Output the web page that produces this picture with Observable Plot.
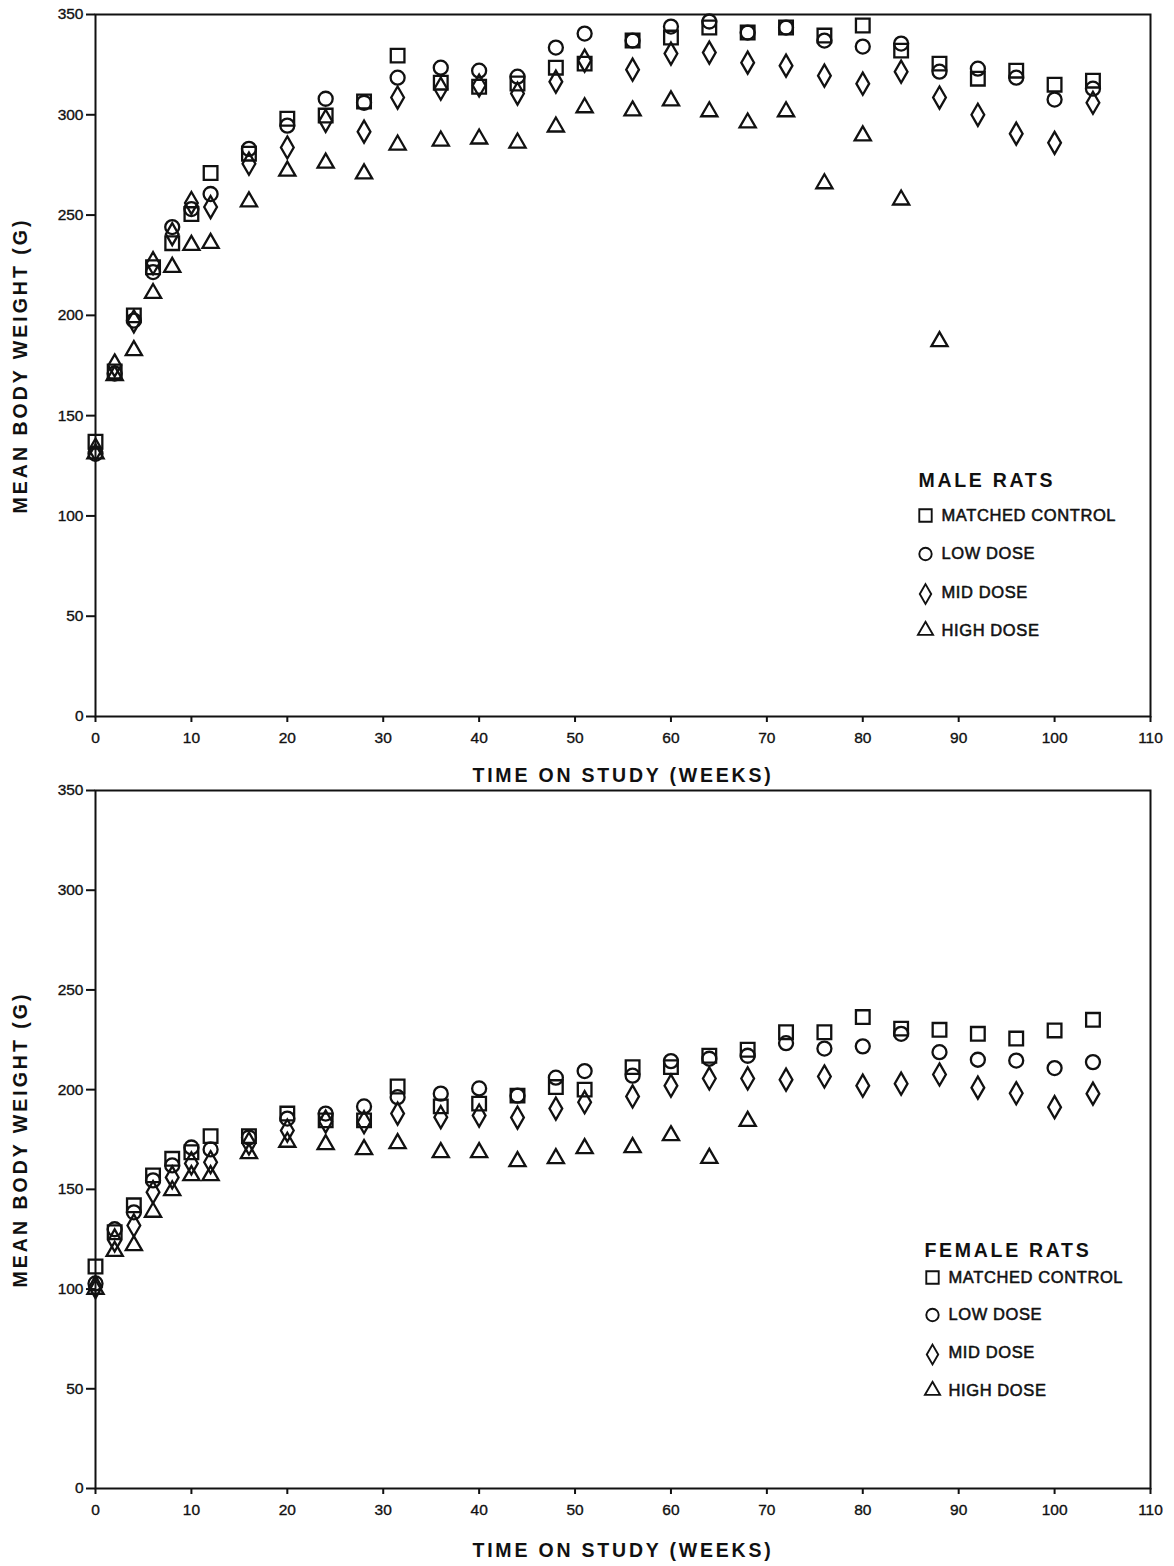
<!DOCTYPE html>
<html>
<head>
<meta charset="utf-8">
<script src="https://cdn.jsdelivr.net/npm/d3@7"></script>
<script src="https://cdn.jsdelivr.net/npm/@observablehq/plot@0.6"></script>
<style>
  body { margin: 0; background: #fff; }
  #chart svg { display: block; overflow: visible; }
</style>
</head>
<body>
<div id="chart"></div>
<script>
// ---- tick labels ----
const xTicks = [0, 10, 20, 30, 40, 50, 60, 70, 80, 90, 100, 110];
const yTicks = [0, 50, 100, 150, 200, 250, 300, 350];

// ---- categories ----
const groupNames = ["MATCHED CONTROL", "LOW DOSE", "MID DOSE", "HIGH DOSE"];
const groupSymbols = ["square", "circle", "diamond", "triangle"];

// ---- time points (weeks) ----
const weeks = [0, 2, 4, 6, 8, 10, 12, 16, 20, 24, 28, 31.5, 36, 40, 44, 48, 51, 56, 60, 64, 68, 72, 76, 80, 84, 88, 92, 96, 100, 104];
const weeksMaleHigh = [0, 2, 4, 6, 8, 10, 12, 16, 20, 24, 28, 31.5, 36, 40, 44, 48, 51, 56, 60, 64, 68, 72, 76, 80, 84, 88];
const weeksFemaleHigh = [0, 2, 4, 6, 8, 10, 12, 16, 20, 24, 28, 31.5, 36, 40, 44, 48, 51, 56, 60, 64, 68];

// ---- male rats, mean body weight (g) ----
const maleControl = [137, 172, 200, 224, 236, 250.5, 271, 280.6, 298, 299.6, 306.6, 329.5, 316, 314, 315.6, 323.5, 325.5, 337, 338.5, 343.5, 341, 343.5, 339.5, 344.5, 332, 325.5, 318, 322, 315, 317];
const maleLow = [131, 171, 197.4, 221.6, 244, 253, 260.5, 283, 294.6, 308, 306, 318.5, 323.5, 322, 319, 333.5, 340.5, 337, 344, 346.5, 341, 343.5, 337, 334, 335.5, 321.5, 323, 318.5, 307.6, 313];
const maleMid = [133, 175, 197, 226, 240.5, 256, 254, 275.6, 283.7, 297, 291.6, 308.6, 313, 314.6, 310.6, 316.5, 327, 322.5, 330.5, 331, 326, 324.5, 319.5, 315.5, 321.5, 308.6, 300, 290.6, 286, 306];
const maleHigh = [131, 170, 182.5, 211, 224, 235, 236, 256.7, 272, 276, 270.6, 285, 287, 288, 286, 294, 303.6, 302, 307, 301.6, 296, 301.6, 265.7, 289.6, 257.6, 187];

// ---- female rats, mean body weight (g) ----
const femaleControl = [111.3, 128.5, 142, 157, 165.3, 168.6, 176.7, 176.7, 188, 184.6, 184.6, 201.6, 191.6, 193, 197, 201.3, 200, 211.3, 211.3, 217, 220, 228.8, 228.8, 236.4, 230.6, 230, 228, 225.6, 229.7, 235];
const femaleLow = [102.8, 130, 138.5, 154.5, 162, 171, 170, 176, 185.5, 188, 191.6, 196.2, 198, 200.6, 197, 206, 209.3, 207, 214.3, 215.5, 217, 223.3, 220.6, 221.7, 228, 218.8, 215, 214.6, 210.8, 213.8];
const femaleMid = [101, 124.4, 131.9, 148.6, 156, 163, 163.6, 173, 179.5, 184, 183.7, 188, 186.2, 187, 186, 190.5, 193.7, 196.6, 202, 205.6, 205.6, 205, 206.6, 202, 203, 207.6, 201, 198.2, 191.2, 198];
const femaleHigh = [100, 119, 121.9, 138.6, 149.4, 157, 157, 168, 173.7, 172.5, 170, 173, 168.5, 168.5, 164, 165.5, 170.5, 171, 177, 165.6, 184.2];

const xTitle = "TIME ON STUDY (WEEKS)";
const yTitle = "MEAN BODY WEIGHT (G)";

// symbol sizes (style)
const dotR = {square: 7.7, circle: 7.0, diamond: 6.7, triangle: 6.0};
const legR = {square: 7.0, circle: 6.2, diamond: 6.0, triangle: 5.6};
const INK = "#111";
const FONT = "'Liberation Sans', Arial, Helvetica, sans-serif";

function panel(cfg) {
  const marks = [
    Plot.frame({stroke: INK, strokeWidth: 2}),
    Plot.axisX({ticks: xTicks, tickSize: 6, tickPadding: 9, fontSize: 15.5, strokeWidth: 2, label: null}),
    Plot.axisY({ticks: yTicks, tickSize: 9, tickPadding: 3, fontSize: 15.5, strokeWidth: 2, label: null}),
    Plot.text([xTitle], {frameAnchor: "bottom", dy: cfg.xTitleDy, text: d => d, textAnchor: "middle", lineAnchor: "middle", fontSize: 19.5, fontWeight: "bold", fill: INK}),
    Plot.text([yTitle], {frameAnchor: "left", dx: -75, rotate: -90, text: d => d, textAnchor: "middle", lineAnchor: "middle", fontSize: 19.5, fontWeight: "bold", fill: INK})
  ];
  cfg.series.forEach((vals, k) => {
    const wk = cfg.weeks[k];
    const data = vals.map((v, i) => ({week: wk[i], weight: v}));
    const sym = groupSymbols[k];
    marks.push(Plot.dot(data, {x: "week", y: "weight", symbol: sym, r: dotR[sym], stroke: INK, strokeWidth: 2.3, fill: "none"}));
  });
  // legend inside plot area
  const L = cfg.legend;
  marks.push(Plot.text([cfg.title], {frameAnchor: "top-left", dx: L.titleDx, dy: L.titleDy, text: d => d, textAnchor: "start", lineAnchor: "middle", fontSize: 19.5, fontWeight: "bold", fill: INK}));
  groupNames.forEach((name, k) => {
    const sym = groupSymbols[k];
    marks.push(Plot.dot([name], {frameAnchor: "top-left", dx: L.symDx, dy: L.itemDy[k] + (sym === "diamond" ? 1.5 : 0), symbol: sym, r: legR[sym], stroke: INK, strokeWidth: 1.9, fill: "none"}));
    marks.push(Plot.text([name], {frameAnchor: "top-left", dx: L.textDx, dy: L.itemDy[k], text: d => d, textAnchor: "start", lineAnchor: "middle", fontSize: 16.5, fill: INK, stroke: INK, strokeWidth: 0.55}));
  });
  const svg = Plot.plot({
    width: 1174,
    height: cfg.height,
    marginLeft: 95,
    marginRight: 24,
    marginTop: cfg.marginTop,
    marginBottom: cfg.marginBottom,
    x: {domain: [0, 110], label: null},
    y: {domain: [0, 350], label: null},
    style: {fontFamily: FONT, color: INK, background: "#fff"},
    marks
  });
  // letter spacing for the titles and legend
  const spacing = new Map([[xTitle, "2.8px"], [yTitle, "3px"], [cfg.title, "2.7px"]]);
  groupNames.forEach(n => spacing.set(n, "0.6px"));
  d3.select(svg).selectAll("text").each(function () {
    const s = spacing.get(this.textContent);
    if (s) this.style.letterSpacing = s;
  });
  // slightly heavier tick labels, like the printed original
  d3.select(svg).selectAll('g[aria-label$="tick label"]')
    .style("font-size", "15.5px")
    .attr("stroke", INK).attr("stroke-width", 0.35);
  return svg;
}

const malePanel = panel({
  height: 782, marginTop: 14, marginBottom: 66, xTitleDy: 59,
  title: "MALE RATS",
  series: [maleControl, maleLow, maleMid, maleHigh],
  weeks: [weeks, weeks, weeks, weeksMaleHigh],
  legend: {titleDx: 823, titleDy: 466, symDx: 830, textDx: 846, itemDy: [501, 539.5, 578, 616]}
});
const femalePanel = panel({
  height: 784, marginTop: 8, marginBottom: 78, xTitleDy: 62,
  title: "FEMALE RATS",
  series: [femaleControl, femaleLow, femaleMid, femaleHigh],
  weeks: [weeks, weeks, weeks, weeksFemaleHigh],
  legend: {titleDx: 829, titleDy: 460, symDx: 837, textDx: 853, itemDy: [487, 524.5, 562.5, 600]}
});
const root = document.getElementById("chart");
root.appendChild(malePanel);
root.appendChild(femalePanel);
</script>
</body>
</html>
